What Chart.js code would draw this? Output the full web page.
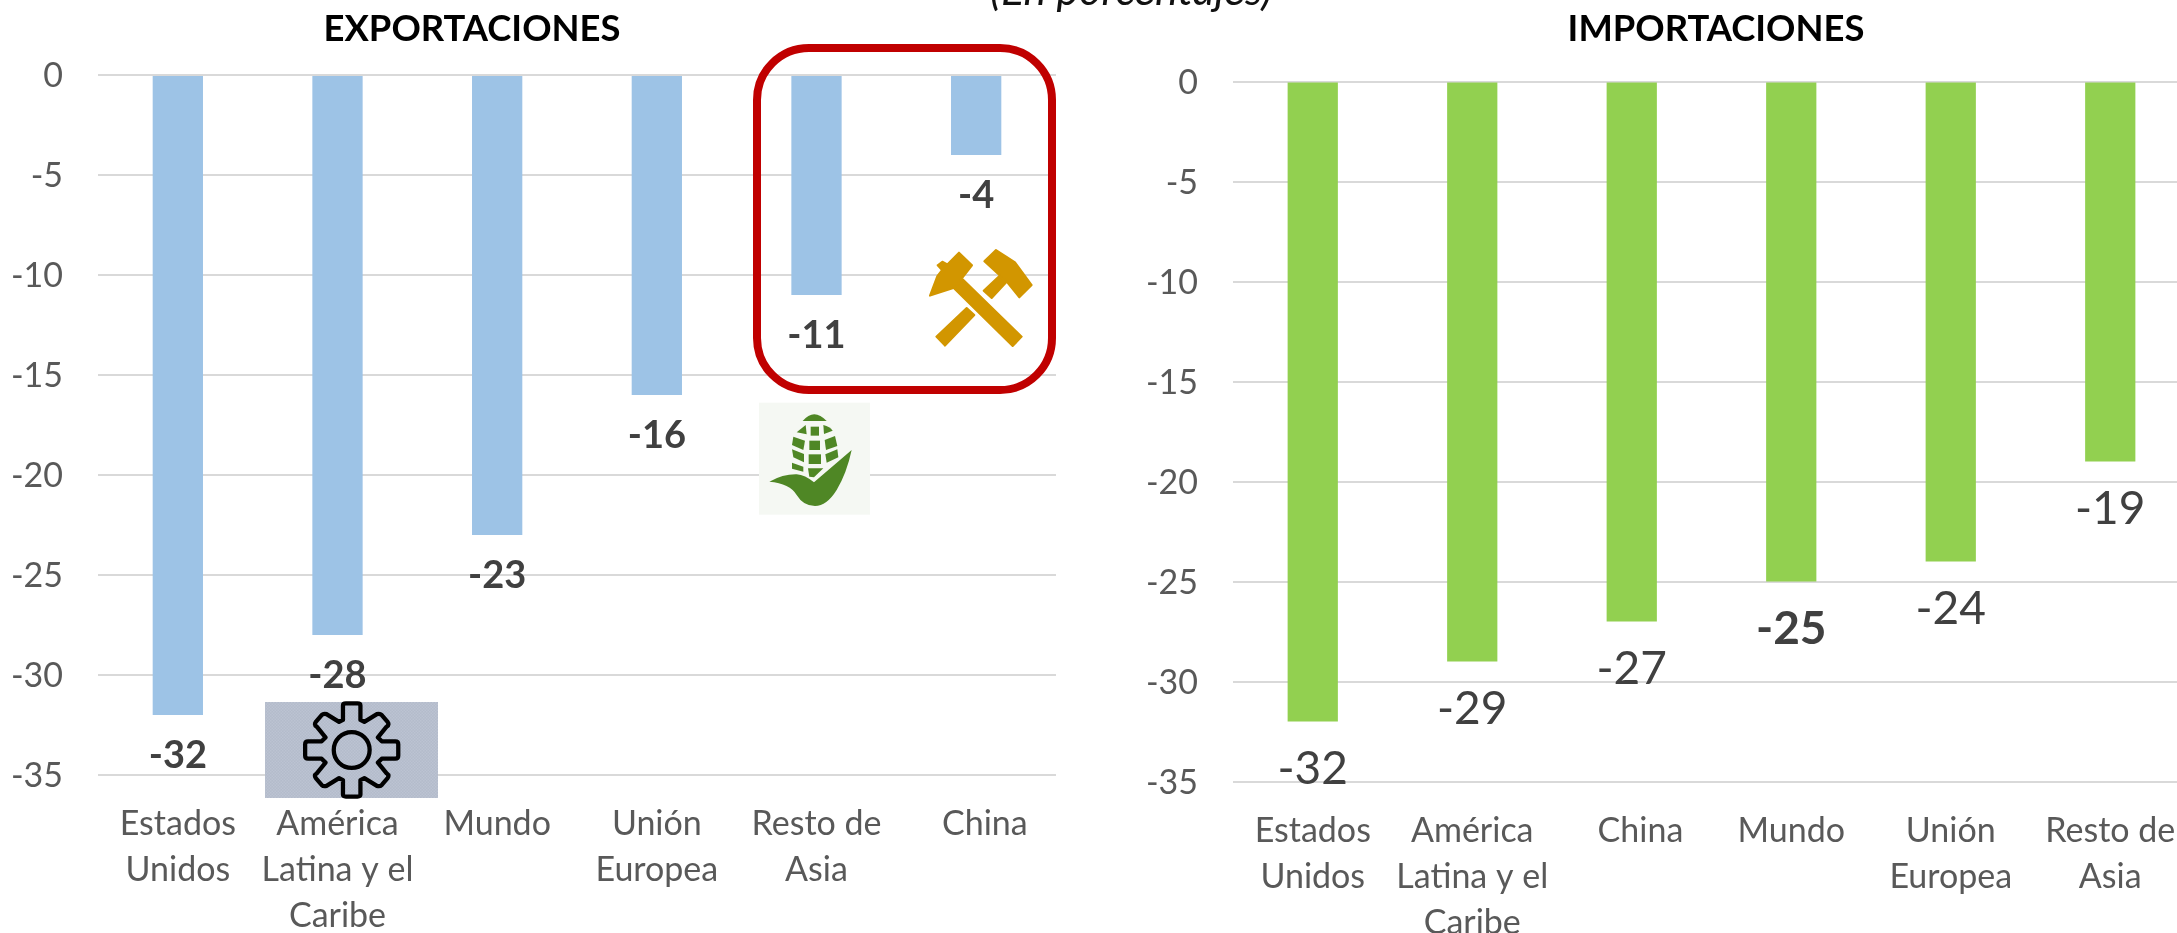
<!DOCTYPE html>
<html lang="es">
<head>
<meta charset="utf-8">
<title>Exportaciones e importaciones</title>
<script src="https://cdn.jsdelivr.net/npm/chart.js@4"></script>
<style>
html,body{margin:0;padding:0;background:#fff;width:2177px;height:933px;overflow:hidden}
#stage{position:relative;width:2177px;height:933px;overflow:hidden;font-family:Lato,sans-serif}
canvas{position:absolute;top:0}
#cExp{left:0}
#cImp{left:1100px}
#sub{position:absolute;left:990px;top:-35px;font:italic 43px/48px Lato,sans-serif;color:#111;white-space:nowrap}
#art{position:absolute;left:0;top:0;pointer-events:none}
</style>
</head>
<body>
<div id="stage">
  <canvas id="cExp" style="width:1100px;height:933px"></canvas>
  <canvas id="cImp" style="width:1090px;height:933px"></canvas>
  <div id="sub">(En porcentajes)</div>
  <svg id="art" width="2177" height="933" viewBox="0 0 2177 933" xmlns="http://www.w3.org/2000/svg">
    <defs>
      <pattern id="dGear" width="3" height="3" patternUnits="userSpaceOnUse">
        <rect width="3" height="3" fill="#b3bbcb"/><rect width="1.5" height="1.5" fill="#bcc3d2"/><rect x="1.5" y="1.5" width="1.5" height="1.5" fill="#bcc3d2"/>
      </pattern>
      <pattern id="dCorn" width="3" height="3" patternUnits="userSpaceOnUse">
        <rect width="3" height="3" fill="#f3f6f0"/><rect width="1.5" height="1.5" fill="#fafbf8"/><rect x="1.5" y="1.5" width="1.5" height="1.5" fill="#fafbf8"/>
      </pattern>
    </defs>
    <!-- red frame -->
    <rect x="757" y="48" width="295" height="342" rx="52" ry="52" fill="none" stroke="#c00000" stroke-width="8"/>
    <!-- gear -->
    <rect x="265" y="702" width="173" height="96" fill="url(#dGear)"/>
    <g transform="translate(351.7 750) scale(0.97)" fill="none" stroke="#000" stroke-width="4.4" stroke-linejoin="round">
      <circle r="18.5"/>
      <path d="M-9 -46 Q-9 -48 -6 -48 L6 -48 Q9 -48 9 -46 L9 -31 L13 -29 L26 -37 Q29 -38 31 -36 L37 -29 Q39 -26 36 -24 L27 -13 L31 -9 L45 -9 Q48 -9 48 -6 L48 6 Q48 9 45 9 L31 9 L27 13 L36 24 Q39 26 37 29 L31 36 Q29 38 26 37 L13 29 L9 31 L9 46 Q9 48 6 48 L-6 48 Q-9 48 -9 46 L-9 31 L-13 29 L-26 37 Q-29 38 -31 36 L-37 29 Q-39 26 -36 24 L-27 13 L-31 9 L-45 9 Q-48 9 -48 6 L-48 -6 Q-48 -9 -45 -9 L-31 -9 L-27 -13 L-36 -24 Q-39 -26 -37 -29 L-31 -36 Q-29 -38 -26 -37 L-13 -29 L-9 -31 Z"/>
    </g>
    <!-- corn and hammers, drawn in 3x local units -->
    <g transform="translate(740 220) scale(0.33333)">
      <rect x="57" y="548" width="333" height="336" fill="url(#dCorn)"/>
      <g fill="#4f8725">
        <path d="M188 603 Q222 562 260 603 Z"/>
        <path d="M170 637 L197 615 L200 643 Z"/>
        <path d="M212 620 L237 620 L237 647 L212 647 Z"/>
        <path d="M250 615 Q270 620 278 632 L252 642 Z"/>
        <path d="M160 650 L195 662 L190 690 L156 675 Z"/>
        <path d="M208 662 L240 662 L240 690 L208 690 Z"/>
        <path d="M254 660 L285 648 L292 678 L258 690 Z"/>
        <path d="M156 688 L192 702 L192 727 L160 712 Z"/>
        <path d="M206 703 L243 703 L243 732 L206 732 Z"/>
        <path d="M256 703 L292 688 L295 712 L260 728 Z"/>
        <path d="M156 728 L190 740 L190 755 L156 746 Z"/>
        <path d="M204 745 L250 745 L222 772 L208 770 Z"/>
        <path d="M88 785 Q130 762 170 763 Q195 765 222 787 L335 690 Q320 760 290 810 Q260 858 225 858 Q190 858 170 825 Q150 790 88 785 Z"/>
      </g>
      <g fill="#d29600" stroke="#d29600" stroke-width="6" stroke-linejoin="round">
        <path d="M657 98 L696 136 L668 172 L640 204 L570 227 L592 168 L606 150 L593 136 L607 125 L622 133 Z"/>
        <path d="M668 178 L845 350 L818 378 L642 205 Z"/>
        <path d="M768 90 L825 127 L875 195 L838 232 L800 185 L778 165 L733 124 Z"/>
        <path d="M778 168 L798 188 L755 234 L731 212 Z"/>
        <path d="M680 264 L703 285 L615 377 L589 350 Z"/>
      </g>
    </g>
  </svg>
</div>
<script>
const expCategories = [["Estados","Unidos"],["América","Latina y el","Caribe"],"Mundo",["Unión","Europea"],["Resto de","Asia"],"  China"];
const expValues = [-32,-28,-23,-16,-11,-4];
const impCategories = [["Estados","Unidos"],["América","Latina y el","Caribe"],"  China","Mundo",["Unión","Europea"],["Resto de","Asia"]];
const impValues = [-32,-29,-27,-25,-24,-19];
const impBoldLabels = [false,false,false,true,false,false];
const expBoldLabels = [true,true,true,true,true,true];
const axisMin = -35, axisMax = 0, axisStep = 5;

const FONT = "Lato, sans-serif";

function barLabels(bold, size, offset){
  return {
    id:"barLabels",
    afterDatasetsDraw(chart){
      const ctx = chart.ctx, meta = chart.getDatasetMeta(0);
      ctx.save();
      ctx.textAlign = "center"; ctx.textBaseline = "middle"; ctx.fillStyle = "#404040";
      meta.data.forEach((bar,i)=>{
        ctx.font = (bold[i] ? "700 " : "400 ") + size + "px " + FONT;
        ctx.fillText(String(chart.data.datasets[0].data[i]), bar.x, bar.y + offset);
      });
      ctx.restore();
    }
  };
}
function moveTitle(centerX){
  return {
    id:"moveTitle",
    afterLayout(chart){
      const t = chart.titleBlock;
      if(t){ t.left = centerX - 400; t.right = centerX + 400; }
    }
  };
}
const nudgeTicks = {
  id:"nudgeTicks",
  beforeDraw(chart){
    chart.scales.y.getLabelItems(chart.chartArea).forEach(it=>{ it.options.translation[1] += 1.5; });
  }
};
function makeChart(id, w, labels, values, color, title, titleCx, plotTop, yWidth, xHeight, rightPad, bold, lblSize, lblOff, titlePadTop){
  const canvas = document.getElementById(id);
  canvas.width = w; canvas.height = 933;
  const titleFont = 36.4, titleLH = 44;
  return new Chart(canvas,{
    type:"bar",
    data:{labels, datasets:[{data:values, backgroundColor:color, borderWidth:0, categoryPercentage:1, barPercentage:0.315}]},
    options:{
      responsive:false, animation:false,
      layout:{padding:{top:0,left:0,right:rightPad,bottom:0}},
      plugins:{
        legend:{display:false}, tooltip:{enabled:false},
        title:{display:true,text:title,color:"#000",font:{family:FONT,size:titleFont,weight:"700",lineHeight:titleLH/titleFont},
               padding:{top:titlePadTop,bottom:plotTop-titleLH-titlePadTop}}
      },
      scales:{
        x:{
          grid:{display:false}, border:{display:false},
          ticks:{color:"#595959",font:{family:FONT,size:34,lineHeight:46/34},padding:18.5,autoSkip:false,maxRotation:0,minRotation:0},
          afterFit(s){ s.height = xHeight; s.paddingLeft = 0; s.paddingRight = 0; }
        },
        y:{
          min:axisMin,max:axisMax,
          grid:{color:"#d9d9d9",lineWidth:2,drawTicks:false}, border:{display:false},
          ticks:{stepSize:axisStep,color:"#595959",font:{family:FONT,size:34},padding:35},
          afterFit(s){ s.width = yWidth; }
        }
      }
    },
    plugins:[nudgeTicks,barLabels(bold,lblSize,lblOff),moveTitle(titleCx)]
  });
}
document.fonts.load("34px Lato").finally(()=>{
  makeChart("cExp",1100,expCategories,expValues,"#9dc3e6","EXPORTACIONES",472,75,98,158,44,expBoldLabels,38,41,7.5);
  makeChart("cImp",1090,impCategories,impValues,"#92d050","IMPORTACIONES",616,81.5,133,151.5,0,impBoldLabels,46,47.5,7.5);
});
</script>
</body>
</html>
